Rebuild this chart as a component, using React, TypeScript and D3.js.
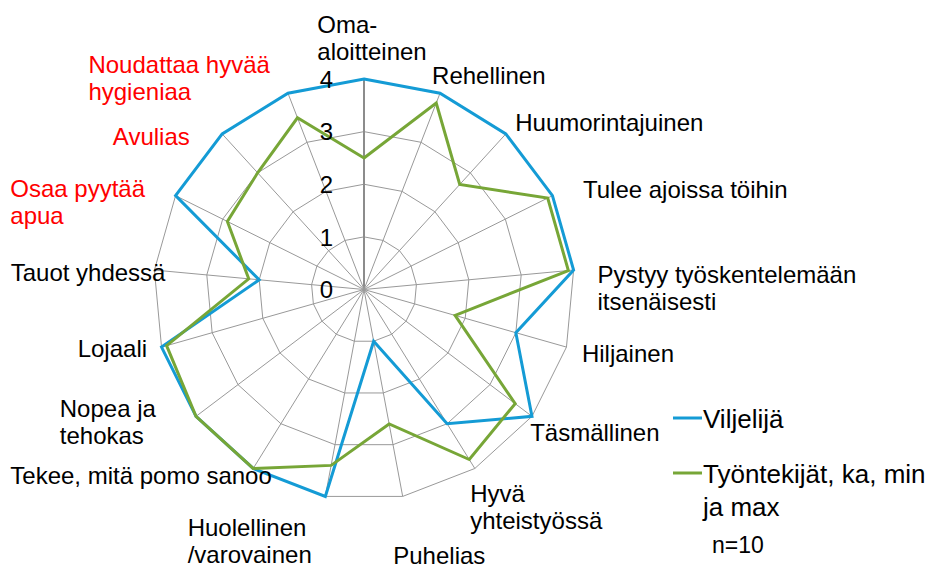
import React from 'react';
import * as d3 from 'd3';

// traits asked from farmer vs. workers (scale 0-4)
const traits = [
  ['Oma-', 'aloitteinen'],
  ['Rehellinen'],
  ['Huumorintajuinen'],
  ['Tulee ajoissa töihin'],
  ['Pystyy työskentelemään', 'itsenäisesti'],
  ['Hiljainen'],
  ['Täsmällinen'],
  ['Hyvä', 'yhteistyössä'],
  ['Puhelias'],
  ['Huolellinen', '/varovainen'],
  ['Tekee, mitä pomo sanoo'],
  ['Nopea ja', 'tehokas'],
  ['Lojaali'],
  ['Tauot yhdessä'],
  ['Osaa pyytää', 'apua'],
  ['Avulias'],
  ['Noudattaa hyvää', 'hygieniaa'],
];
const redTraits = [14, 15, 16];

const viljelija = [4, 4, 4, 4, 4, 3, 4, 3, 1, 4, 4, 4, 4, 2, 4, 4, 4];
const tyontekijat = [2.5, 3.8, 2.7, 3.9, 3.9, 1.8, 3.6, 3.8, 2.6, 3.4, 4, 4, 3.9, 2.2, 2.9, 3.0, 3.5];

const ticks = [0, 1, 2, 3, 4];

const series = [
  { name: ['Viljelijä'], values: viljelija, color: '#149BD5' },
  { name: ['Työntekijät, ka, min', 'ja max'], values: tyontekijat, color: '#77A637' },
];

// label nudges (px) - excel puts the category labels a bit loosely
const labelNudge = [
  [8, 0], [-13, 8], [0, 9], [18, 6], [10, 22], [2, 0], [-13, 0], [-12, 5], [-12, 33],
  [-11, 6], [26, -15], [-29, -18], [-1, -5], [25, 5], [-18, 25], [-23, 23], [-13, 23],
];

const W = 935;
const H = 570;
const cx = 364;
const cy = 289.5;
const R = 210.5;
const FONT = '"Liberation Sans", Arial, sans-serif';
const LABEL_SIZE = 24;

let ctx: CanvasRenderingContext2D | null = null;
function textWidth(s: string, size: number) {
  if (!ctx) ctx = document.createElement('canvas').getContext('2d');
  if (!ctx) return s.length * size * 0.5;
  ctx.font = `${size}px ${FONT}`;
  return ctx.measureText(s).width;
}

export default function App() {
  const n = traits.length;
  const r = d3.scaleLinear().domain([0, 4]).range([0, R]);
  const angle = (i: number) => (i * 2 * Math.PI) / n;

  const ring = d3
    .lineRadial<number>()
    .angle((_, i) => angle(i))
    .radius((d) => r(d))
    .curve(d3.curveLinearClosed);

  const lineH = 27;

  return (
    <div style={{ position: 'absolute', left: 0, top: 0 }}>
      <svg width={W} height={H} style={{ display: 'block', background: '#fff' }} fontFamily={FONT}>
        <g transform={`translate(${cx},${cy})`}>
          {ticks.slice(1).map((t) => (
            <path key={`ring-${t}`} d={ring(d3.range(n).map(() => t)) || ''} fill="none" stroke="#999" strokeWidth={1} />
          ))}
          {d3.range(n).map((i) => {
            const a = angle(i);
            return (
              <line
                key={`spoke-${i}`}
                x1={0}
                y1={0}
                x2={Math.sin(a) * R}
                y2={-Math.cos(a) * R}
                stroke={i === 0 ? '#8c8c8c' : '#999'}
                strokeWidth={i === 0 ? 2 : 1}
              />
            );
          })}
          {series.map((s) => (
            <path key={s.name[0]} d={ring(s.values) || ''} fill="none" stroke={s.color} strokeWidth={3} strokeLinejoin="miter" />
          ))}
          {ticks.map((t) => (
            <text key={`tick-${t}`} x={-31} y={-r(t)} dy="0.36em" textAnchor="end" fontSize={24} fill="#000">
              {t}
            </text>
          ))}
        </g>

        {traits.map((lines, i) => {
          const a = angle(i);
          const s = Math.sin(a);
          const c = Math.cos(a);
          const px = cx + s * (R + 14) + labelNudge[i][0];
          const py = cy - c * (R + 14);
          const maxW = d3.max(lines, (l) => textWidth(l, LABEL_SIZE)) || 0;
          // block is left aligned, placed by side of the chart
          const left = s > 0.1 ? px : s < -0.1 ? px - maxW : px - maxW / 2;
          const blockY = py - c * lines.length * 13 + labelNudge[i][1];
          const firstY = blockY - ((lines.length - 1) * lineH) / 2;
          return (
            <text
              key={`lab-${i}`}
              x={left}
              y={firstY}
              textAnchor="start"
              fontSize={LABEL_SIZE}
              fill={redTraits.includes(i) ? '#FF0000' : '#000'}
            >
              {lines.map((l, j) => (
                <tspan key={j} x={left} y={firstY + j * lineH} dy="0.33em">
                  {l}
                </tspan>
              ))}
            </text>
          );
        })}

        <g transform="translate(673,418)">
          {series.map((s, k) => (
            <g key={`leg-${k}`} transform={`translate(0,${k * 55})`}>
              <line x1={0} x2={29} y1={0} y2={0} stroke={s.color} strokeWidth={3} />
              {s.name.map((l, j) => (
                <text key={j} x={30} y={10 + j * 33} fontSize={26} fill="#000">
                  {l}
                </text>
              ))}
            </g>
          ))}
          <text x={39} y={135} fontSize={23} fill="#000">
            n=10
          </text>
        </g>
      </svg>
    </div>
  );
}
